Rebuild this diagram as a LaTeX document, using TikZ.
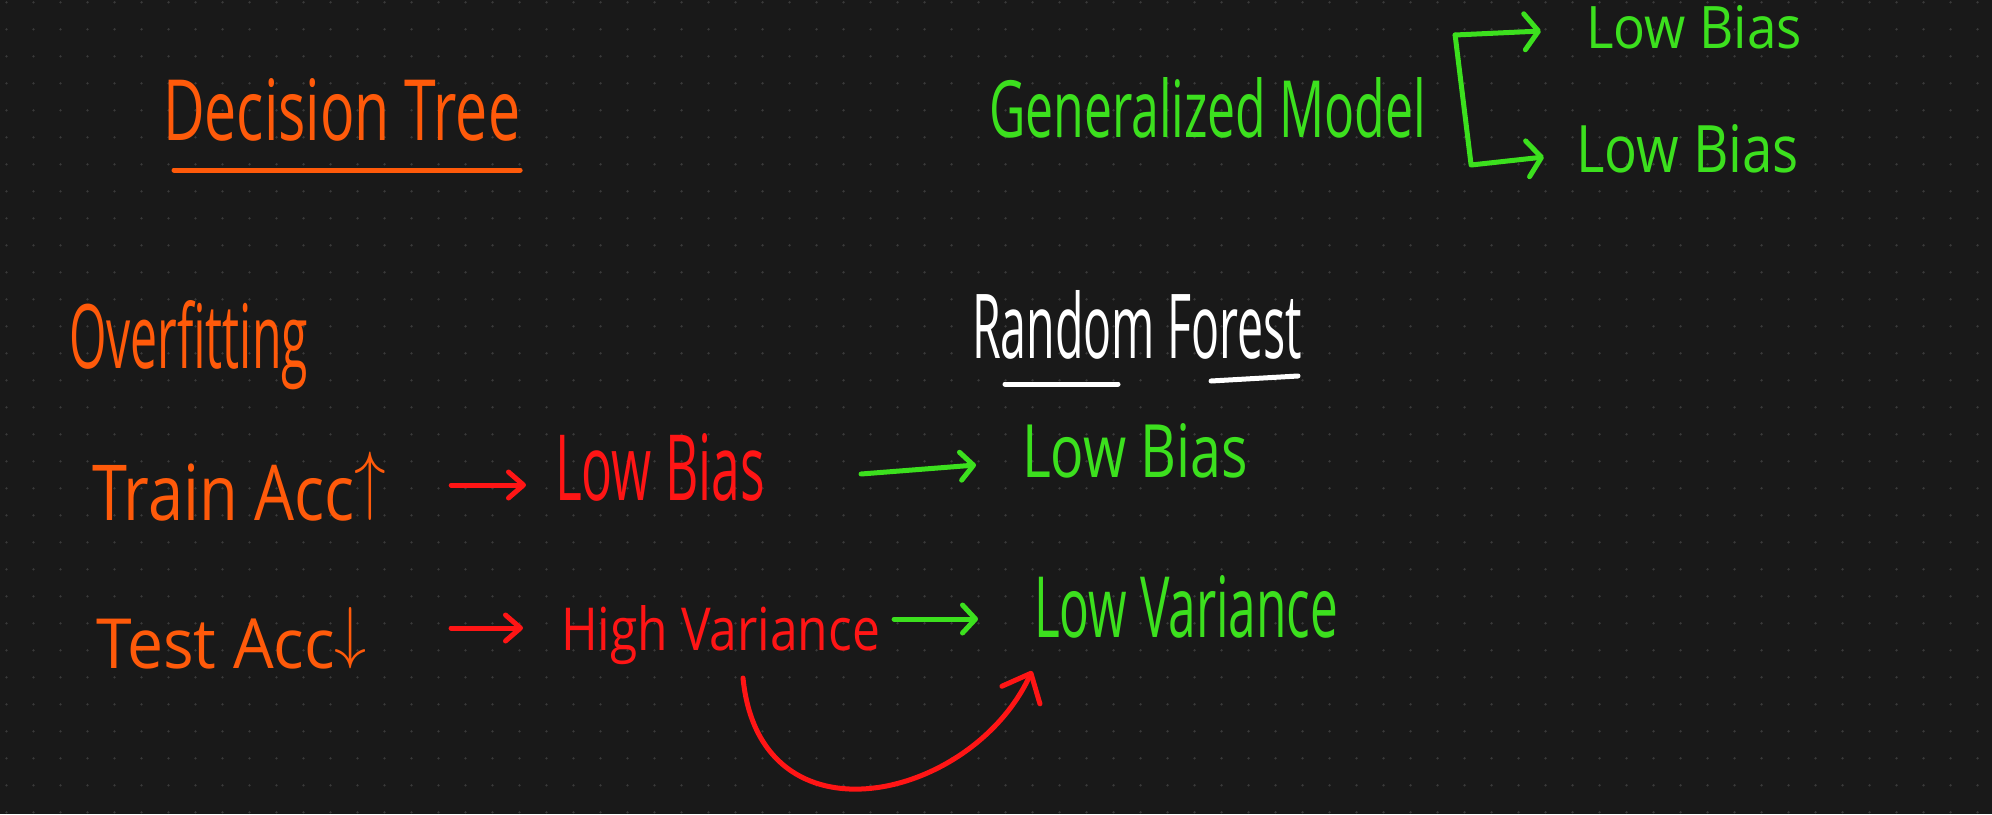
\documentclass[tikz,border=0pt]{standalone}
\usepackage{fontspec}
\setmainfont{Open Sans}
\usepackage{graphicx}
\usetikzlibrary{arrows.meta}
\definecolor{bgc}{HTML}{191919}
\definecolor{dotc}{HTML}{3A3A3A}
\definecolor{horange}{HTML}{FF5A0A}
\definecolor{hred}{HTML}{FF1515}
\definecolor{hgreen}{HTML}{3CE01E}
\newcommand\hw[3]{\resizebox{#1pt}{#2pt}{#3}}
\begin{document}
\begin{tikzpicture}[x=1pt,y=-1pt,
  txt/.style={inner sep=0pt, outer sep=0pt, anchor=base west},
  pen/.style={line width=5pt, line cap=round, line join=round},
  redarr/.style={pen, draw=hred, -{Straight Barb[length=15pt,width=26pt,round]}},
  greenarr/.style={pen, draw=hgreen, -{Straight Barb[length=13pt,width=28pt,round]}},
  bigredarr/.style={pen, draw=hred, -{Straight Barb[length=24pt,width=42pt,round]}},
  bracketarr/.style={pen, draw=hgreen, -{Straight Barb[length=14pt,width=36pt,round]}}]
\useasboundingbox (0,0) rectangle (1992,814);
\fill[bgc] (0,0) rectangle (1992,814);
\foreach \i in {0,...,73}{
  \foreach \j in {0,...,30}{
    \fill[dotc] (6.5+27*\i, 2.3+27*\j) circle[radius=1.3pt];
  }
}
% left column (orange)
\node[txt, text=horange] (dt) at (163,140) {\hw{357}{62}{Decision Tree}};
\node[txt, text=horange] (ov) at (69,368) {\hw{239}{68}{Overfitting}};
\node[txt, text=horange] (train) at (92,520) {\hw{294}{68}{Train Acc\raisebox{0.35ex}{$\uparrow$}}};
\node[txt, text=horange] (test) at (96,668) {\hw{271}{61}{Test Acc\raisebox{0.35ex}{$\downarrow$}}};
% red
\node[txt, text=hred] (lbr) at (555,500) {\hw{210}{67}{Low Bias}};
\node[txt, text=hred] (hv) at (561,650) {\hw{319}{45}{High Variance}};
% white
\node[txt, text=white] (rf) at (972,358) {\hw{330}{68}{Random Forest}};
% green
\node[txt, text=hgreen] (lbg) at (1022,477) {\hw{226}{54}{Low Bias}};
\node[txt, text=hgreen] (lv) at (1034,637) {\hw{304}{62}{Low Variance}};
\node[txt, text=hgreen] (gm) at (989,137) {\hw{437}{60}{Generalized Model}};
\node[txt, text=hgreen] (lb1) at (1586,48) {\hw{216}{43}{Low Bias}};
\node[txt, text=hgreen] (lb2) at (1576,172) {\hw{223}{48}{Low Bias}};
% underlines
\draw[pen, draw=horange] ([shift={(11,30)}]dt.base west) -- ([shift={(0,30)}]dt.base east);
\draw[pen, draw=white] ([shift={(33,26)}]rf.base west) -- ([shift={(146,26)}]rf.base west);
\draw[pen, draw=white] ([shift={(-91,23)}]rf.base east) -- ([shift={(-4,18)}]rf.base east);
% arrows
\draw[redarr] ([shift={(65,-35)}]train.base east) -- ([shift={(-29,-15)}]lbr.base west);
\draw[redarr] ([shift={(84,-40)}]test.base east) -- ([shift={(-38,-22)}]hv.base west);
\draw[greenarr] ([shift={(96,-26)}]lbr.base east) -- ([shift={(-46,-12)}]lbg.base west);
\draw[greenarr] ([shift={(14,-31)}]hv.base east) -- ([shift={(-56,-18)}]lv.base west);
\draw[bigredarr] ([shift={(182,28)}]hv.base west) .. controls +(17,172) and +(-60,130) .. ([shift={(-2,34)}]lv.base west);
% bracket
\coordinate (tl) at ([shift={(29,-102)}]gm.base east);
\coordinate (bl) at ([shift={(45,28)}]gm.base east);
\draw[bracketarr] (tl) -- ([shift={(-45,-17)}]lb1.base west);
\draw[bracketarr] (tl) -- (bl) -- ([shift={(-32,-15)}]lb2.base west);
\end{tikzpicture}
\end{document}
